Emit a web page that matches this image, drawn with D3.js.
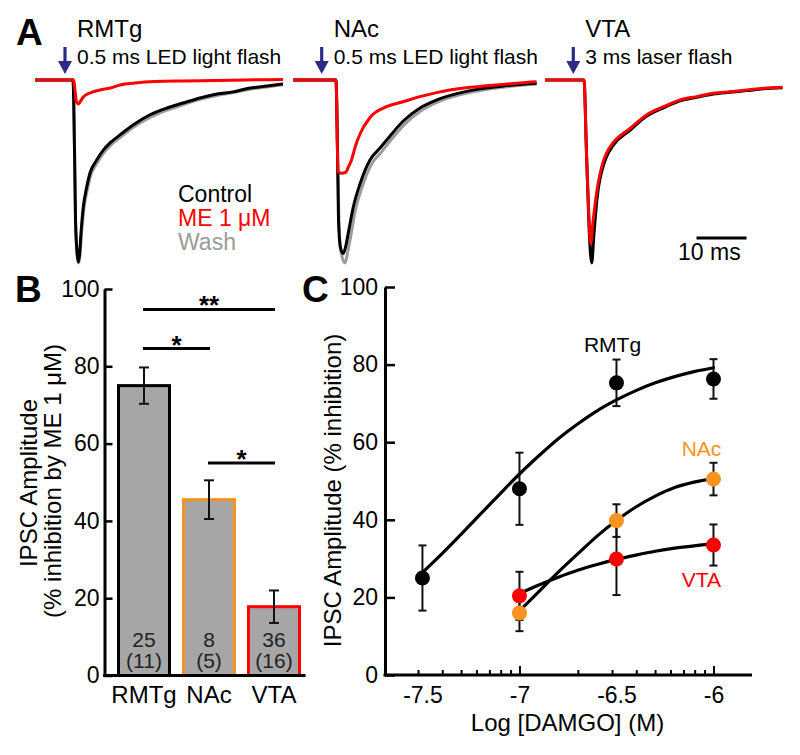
<!DOCTYPE html>
<html><head><meta charset="utf-8">
<script src="https://cdn.jsdelivr.net/npm/d3@7"></script>
<style>body{margin:0;background:#fff} svg{display:block;font-family:"Liberation Sans",Arial,Helvetica,sans-serif}</style>
</head><body><svg id="c" width="800" height="755"></svg>
<script>
// ---------- Panel A: IPSC traces [time (ms), current (% of control peak)] ----------
const rmtgControl = [[0,0],[7.6,0],[7.9,-38],[8.1,-76],[8.4,-94],[8.66,-99.5],[8.9,-95.6],[9.2,-83.6],[9.66,-69.4],[10.34,-58.5],[11,-50.8],[12.34,-43.7],[13.66,-38.3],[15,-34.4],[17,-30],[19.6,-24.6],[23,-19],[26.4,-15.3],[29.6,-12.6],[33,-9.8],[36.4,-7.7],[39.6,-6.5],[43,-4.4],[46.4,-3.3],[49.6,-2.2]];
const rmtgME = [[0,0],[7.7,0],[8.3,-12],[8.66,-13.1],[9,-12],[9.66,-9.3],[11,-7.1],[13,-5.5],[15,-4.4],[17,-2.7],[20,-1.6],[24,-0.8],[30,-0.5],[36,-0.3],[42,0],[49.6,0.3]];
const rmtgWash = [[0,0],[7.6,0],[7.9,-38],[8.1,-76],[8.4,-94],[8.7,-100],[9,-96],[9.3,-84],[9.8,-70],[10.5,-59.5],[11.1,-52.5],[12.4,-45.5],[13.7,-40],[15,-36],[17,-31.5],[19.6,-26],[23,-20.5],[26.4,-16.5],[29.6,-13.5],[33,-10.6],[36.4,-8.5],[39.6,-7],[43,-5],[46.4,-3.8],[49.6,-2.6]];
const nacControl = [[0,0],[8.6,0],[8.9,-38],[9.1,-76.5],[9.5,-91.8],[10.06,-94.8],[10.6,-90.2],[11.06,-83.6],[12.06,-69.4],[13.4,-56.8],[15.4,-43.7],[17.4,-37.2],[18.74,-32.8],[22.06,-22.4],[25.4,-15.3],[28.74,-10.9],[35.4,-5.8],[42.06,-3.3],[48.74,-1.8]];
const nacME = [[0,0],[8.6,0],[9.0,-50],[9.6,-51],[10.6,-50.3],[11.0,-48],[11.7,-43.7],[12.5,-36],[13.4,-29.5],[15.4,-20.5],[18.7,-14.6],[22,-11.9],[25.4,-9.1],[28.7,-6.9],[35.4,-4],[42,-2.4],[48.7,-0.9]];
const nacWash = [[0,0],[8.6,0],[8.9,-38],[9.2,-78],[9.6,-94],[10.4,-100],[11,-93],[11.5,-86],[12.4,-72],[13.7,-59.5],[15.7,-46],[17.7,-39.3],[19,-34.8],[22.4,-24],[25.7,-16.7],[29,-12],[35.7,-6.6],[42.4,-3.8],[48.7,-2.2]];
const vtaControl = [[0,0],[7.8,0],[8.3,-40],[8.8,-80],[9.34,-100],[9.8,-84],[10.4,-65],[11.7,-46.5],[12.3,-42],[13.7,-35.5],[17,-27.5],[20.3,-19.8],[23.7,-15.2],[27,-11.4],[30.3,-9.5],[33.7,-7.7],[37,-6.7],[40.3,-5.8],[43.7,-4.8],[47.5,-4.2]];
const vtaME = [[0,0],[7.8,0],[8.3,-40],[8.8,-75],[9.14,-89.3],[9.5,-80],[10.3,-62],[11.6,-45],[12.3,-40],[13.7,-34],[17,-26.5],[20.3,-19.1],[23.7,-14.6],[27,-10.9],[30.3,-9.1],[33.7,-7.3],[37,-6.4],[40.3,-5.5],[43.7,-4.5],[47.5,-4]];
const traceTitles = ["RMTg","NAc","VTA"];
const flashLabels = ["0.5 ms LED light flash","0.5 ms LED light flash","3 ms laser flash"];
const flashTimes = [6.0, 5.74, 5.66];
const legendLabels = ["Control","ME 1 μM","Wash"];

// ---------- Panel B ----------
const regions = ["RMTg","NAc","VTA"];
const inhibitionME = [75, 45.5, 17.8];
const inhibitionSEM = [4.7, 5.0, 4.2];
const cellCounts = ["25","8","36"];
const animalCounts = ["(11)","(5)","(16)"];
const sigPairs = [["RMTg","VTA",94.7,"**"],["RMTg","NAc",84.6,"*"],["NAc","VTA",55,"*"]];
const yTicks = [0,20,40,60,80,100];

// ---------- Panel C ----------
const logDamgoRMTg = [-7.5,-7,-6.5,-6];
const rmtgMean = [25,48,75.3,76.3];
const rmtgSEM = [8.4,9.3,6.0,5.1];
const logDamgo = [-7,-6.5,-6];
const nacMean = [16,39.8,50.5];
const nacSEM = [4.7,4.2,4.2];
const vtaMean = [20.4,29.9,33.5];
const vtaSEM = [6.2,9.3,5.3];
const fitLogRMTg = [-7.5,-7.4,-7.3,-7.2,-7.1,-7.0,-6.9,-6.8,-6.7,-6.6,-6.5,-6.4,-6.3,-6.2,-6.1,-6.0];
const fitRMTg = [26.4,31.2,36.3,41.5,46.7,51.8,56.5,60.9,64.7,68.1,70.9,73.3,75.3,76.9,78.2,79.2];
const fitLog = [-7.0,-6.9,-6.8,-6.7,-6.6,-6.5,-6.4,-6.3,-6.2,-6.1,-6.0];
const fitNAc = [16.5,21.5,26.5,31.2,35.8,39.8,43.3,46.1,48.3,49.7,50.6];
const fitVTA = [21,23.2,25.2,27,28.5,29.8,30.9,31.9,32.7,33.3,33.8];
const xMinorTicks = [3e-8,4e-8,5e-8,6e-8,7e-8,8e-8,9e-8,2e-7,3e-7,4e-7,5e-7,6e-7,7e-7,8e-7,9e-7];
const xMajorTicks = [1e-7,1e-6];
const xTickLabels = [-7.5,-7,-6.5,-6];

const RED = "#ff0000", ORANGE = "#f7931e", GREY = "#9b9b9b", NAVY = "#2c2a86", BARFILL = "#a6a6a6";
const svg = d3.select("#c");

// ================= Panel A =================
const yTr = d3.scaleLinear().domain([-100, 0]).range([263, 80]);
const traceX0 = [35, 293, 545];
const traceSets = [[rmtgWash, rmtgControl, rmtgME],[nacWash, nacControl, nacME],[null, vtaControl, vtaME]];
const traceColors = [GREY, "#000", RED];
traceSets.forEach((set, i) => {
  const x = d3.scaleLinear().domain([0, 50]).range([traceX0[i], traceX0[i] + 250]);
  const line = d3.line().x(d => x(d[0])).y(d => yTr(d[1])).curve(d3.curveMonotoneX);
  set.forEach((tr, j) => {
    if (!tr) return;
    svg.append("path").attr("d", line(tr)).attr("fill", "none")
      .attr("stroke", traceColors[j]).attr("stroke-width", 3).attr("stroke-linejoin", "round");
  });
  const ax = x(flashTimes[i]);
  svg.append("line").attr("x1", ax).attr("x2", ax).attr("y1", 47).attr("y2", 64)
    .attr("stroke", NAVY).attr("stroke-width", 3.2);
  svg.append("path").attr("d", `M${ax-7},61L${ax+7},61L${ax},74Z`).attr("fill", NAVY);
  const tx = ax + 12;
  svg.append("text").attr("x", tx).attr("y", 36.5).attr("font-size", 24).text(traceTitles[i]);
  svg.append("text").attr("x", tx).attr("y", 64).attr("font-size", 21).text(flashLabels[i]);
});
svg.append("text").attr("x", 16).attr("y", 45).attr("font-size", 37).attr("font-weight", "bold").text("A");
const legendColors = ["#000", RED, GREY];
legendLabels.forEach((l, i) => {
  svg.append("text").attr("x", 178).attr("y", 201.5 + i * 24).attr("font-size", 23)
    .attr("fill", legendColors[i]).text(l);
});
{
  const x = d3.scaleLinear().domain([0, 50]).range([traceX0[2], traceX0[2] + 250]);
  svg.append("line").attr("x1", x(30.3)).attr("x2", x(40.3)).attr("y1", 238).attr("y2", 238)
    .attr("stroke", "#000").attr("stroke-width", 3);
  svg.append("text").attr("x", 678).attr("y", 260).attr("font-size", 23).text("10 ms");
}

// ================= Panel B =================
const yB = d3.scaleLinear().domain([0, 100]).range([675.5, 289]);
const xB = d3.scaleBand().domain(regions).range([111.5, 306.5]).paddingInner(0.169).paddingOuter(0.0846);
const barStroke = ["#000", ORANGE, RED];
const gB = svg.append("g");
gB.selectAll("rect").data(regions).join("rect")
  .attr("x", d => xB(d) + 1.5).attr("width", xB.bandwidth() - 3)
  .attr("y", (d, i) => yB(inhibitionME[i])).attr("height", (d, i) => yB(0) - yB(inhibitionME[i]))
  .attr("fill", BARFILL).attr("stroke", (d, i) => barStroke[i]).attr("stroke-width", 3);
regions.forEach((r, i) => {
  const cx = xB(r) + xB.bandwidth() / 2;
  const m = inhibitionME[i], s = inhibitionSEM[i];
  gB.append("line").attr("x1", cx).attr("x2", cx).attr("y1", yB(m + s)).attr("y2", yB(m - s)).attr("stroke", "#111").attr("stroke-width", 2);
  [m + s, m - s].forEach(v => gB.append("line").attr("x1", cx - 5).attr("x2", cx + 5).attr("y1", yB(v)).attr("y2", yB(v)).attr("stroke", "#111").attr("stroke-width", 2));
  gB.append("text").attr("x", cx).attr("y", 647).attr("text-anchor", "middle").attr("font-size", 21).attr("fill", "#222").text(cellCounts[i]);
  gB.append("text").attr("x", cx).attr("y", 668).attr("text-anchor", "middle").attr("font-size", 21).attr("fill", "#222").text(animalCounts[i]);
});
sigPairs.forEach(([a, b, v, lab]) => {
  const x1 = xB(a) + xB.bandwidth() / 2, x2 = xB(b) + xB.bandwidth() / 2;
  gB.append("line").attr("x1", x1 - 1).attr("x2", x2 + 1).attr("y1", yB(v)).attr("y2", yB(v)).attr("stroke", "#000").attr("stroke-width", 3);
  gB.append("text").attr("x", (x1 + x2) / 2).attr("y", yB(v) + 5).attr("text-anchor", "middle")
    .attr("font-size", 26).attr("font-weight", "bold").text(lab);
});
const axBx = 104.5;
const yAxisB = svg.append("g").attr("transform", `translate(${axBx},0)`)
  .call(d3.axisLeft(yB).tickValues(yTicks).tickSizeInner(-8).tickSizeOuter(0).tickPadding(5));
yAxisB.select(".domain").attr("stroke-width", 3);
yAxisB.selectAll(".tick line").attr("stroke-width", 2.5);
yAxisB.selectAll("text").attr("font-size", 23).attr("font-family", null).attr("fill", "#000");
svg.append("line").attr("x1", axBx - 1.5).attr("x2", xB.range()[1] - 1).attr("y1", yB(0)).attr("y2", yB(0)).attr("stroke", "#000").attr("stroke-width", 3);
const xAxisB = svg.append("g").attr("transform", `translate(0,${yB(0)})`)
  .call(d3.axisBottom(xB).tickSize(0).tickPadding(10));
xAxisB.select(".domain").remove();
xAxisB.selectAll("text").attr("font-size", 24).attr("font-family", null).attr("fill", "#000");
svg.append("text").attr("transform", "translate(37,483) rotate(-90)").attr("text-anchor", "middle").attr("font-size", 24).text("IPSC Amplitude");
svg.append("text").attr("transform", "translate(61,481) rotate(-90)").attr("text-anchor", "middle").attr("font-size", 24).text("(% inhibition by ME 1 μM)");
svg.append("text").attr("x", 15).attr("y", 302).attr("font-size", 37).attr("font-weight", "bold").text("B");

// ================= Panel C =================
const yC = d3.scaleLinear().domain([0, 100]).range([675, 287]);
const xC = d3.scaleLog().domain([Math.pow(10, -7.693), Math.pow(10, -5.8015)]).range([385, 752]);
const gC = svg.append("g");
const cLine = d3.line().x(d => xC(Math.pow(10, d[0]))).y(d => yC(d[1])).curve(d3.curveMonotoneX);
function errBars(xs, ms, ss, color) {
  xs.forEach((lx, i) => {
    const cx = xC(Math.pow(10, lx));
    gC.append("line").attr("x1", cx).attr("x2", cx).attr("y1", yC(ms[i] + ss[i])).attr("y2", yC(ms[i] - ss[i])).attr("stroke", color).attr("stroke-width", 2);
    [ms[i] + ss[i], ms[i] - ss[i]].forEach(v => gC.append("line").attr("x1", cx - 4).attr("x2", cx + 4).attr("y1", yC(v)).attr("y2", yC(v)).attr("stroke", color).attr("stroke-width", 2));
  });
}
errBars(logDamgoRMTg, rmtgMean, rmtgSEM, "#111");
errBars(logDamgo, vtaMean, vtaSEM, "#111");
errBars(logDamgo, nacMean, nacSEM, "#111");
[[fitLogRMTg, fitRMTg],[fitLog, fitNAc],[fitLog, fitVTA]].forEach(([xs, ys]) => {
  gC.append("path").attr("d", cLine(xs.map((v, i) => [v, ys[i]]))).attr("fill", "none")
    .attr("stroke", "#000").attr("stroke-width", 3.2).attr("stroke-linecap", "round");
});
function dots(xs, ms, color) {
  gC.selectAll(null).data(xs).join("circle")
    .attr("cx", d => xC(Math.pow(10, d))).attr("cy", (d, i) => yC(ms[i])).attr("r", 7.5).attr("fill", color);
}
dots(logDamgoRMTg, rmtgMean, "#000");
dots(logDamgo, vtaMean, RED);
dots(logDamgo, nacMean, ORANGE);
gC.append("text").attr("x", 612.5).attr("y", 351.5).attr("text-anchor", "middle").attr("font-size", 21).text("RMTg");
gC.append("text").attr("x", 701.5).attr("y", 455.5).attr("text-anchor", "middle").attr("font-size", 21).attr("fill", ORANGE).text("NAc");
gC.append("text").attr("x", 701.5).attr("y", 587).attr("text-anchor", "middle").attr("font-size", 21).attr("fill", RED).text("VTA");

const axCx = 385;
const yAxisC = svg.append("g").attr("transform", `translate(${axCx},0)`)
  .call(d3.axisLeft(yC).tickValues(yTicks).tickSizeInner(-10).tickSizeOuter(0).tickPadding(7));
yAxisC.select(".domain").attr("stroke-width", 3);
yAxisC.selectAll(".tick line").attr("stroke-width", 2.5);
yAxisC.selectAll("text").attr("font-size", 23).attr("font-family", null).attr("fill", "#000");
const xAxisMinor = svg.append("g").attr("transform", `translate(0,${yC(0)})`)
  .call(d3.axisBottom(xC).tickValues(xMinorTicks).tickSizeInner(-5).tickSizeOuter(0).tickFormat(""));
xAxisMinor.select(".domain").attr("stroke-width", 3).attr("d", `M${axCx - 1.5},0H${xC.range()[1]}`);
xAxisMinor.selectAll(".tick line").attr("stroke-width", 2);
const xAxisMajor = svg.append("g").attr("transform", `translate(0,${yC(0)})`)
  .call(d3.axisBottom(xC).tickValues(xMajorTicks).tickSizeInner(-9).tickSizeOuter(0).tickFormat(""));
xAxisMajor.select(".domain").remove();
xAxisMajor.selectAll(".tick line").attr("stroke-width", 2);
const xAxisLab = svg.append("g").attr("transform", `translate(0,${yC(0)})`)
  .call(d3.axisBottom(xC).tickValues(xTickLabels.map(v => Math.pow(10, v))).tickSize(0).tickPadding(11.5)
    .tickFormat(d => String(Math.round(Math.log10(d) * 10) / 10)));
xAxisLab.select(".domain").remove();
xAxisLab.selectAll("text").attr("font-size", 23).attr("font-family", null).attr("fill", "#000");
svg.append("text").attr("x", 567.5).attr("y", 731).attr("text-anchor", "middle").attr("font-size", 24).text("Log [DAMGO] (M)");
svg.append("text").attr("transform", "translate(341,490.5) rotate(-90)").attr("text-anchor", "middle").attr("font-size", 24).text("IPSC Amplitude (% inhibition)");
svg.append("text").attr("x", 302).attr("y", 302).attr("font-size", 37).attr("font-weight", "bold").text("C");
</script></body></html>
